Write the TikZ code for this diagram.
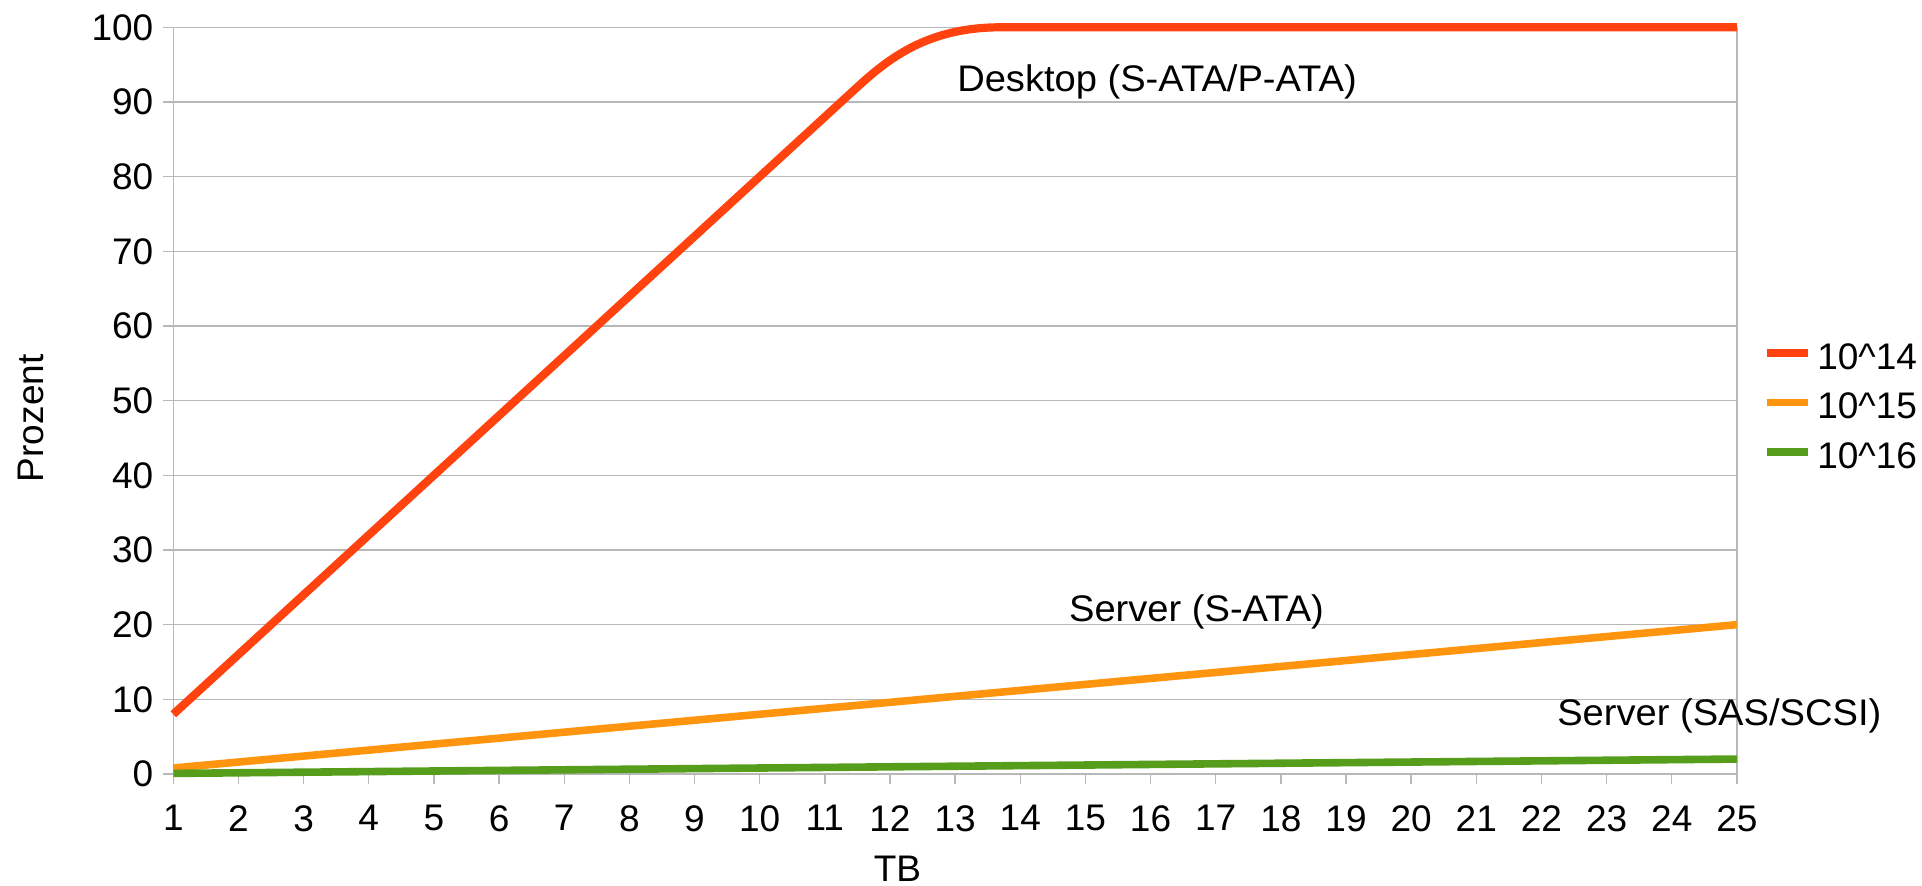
\documentclass[tikz,border=0pt]{standalone}
\usepackage{fontspec}
\setmainfont{Liberation Sans}
\definecolor{cA}{HTML}{FF420E}
\definecolor{cB}{HTML}{FF950E}
\definecolor{cC}{HTML}{579D1C}
\definecolor{gridc}{HTML}{B8B8B8}
\begin{document}
\begin{tikzpicture}[x=1pt,y=1pt,
  font=\fontsize{37}{44}\selectfont,
  gridline/.style={draw=gridc, line width=1.4pt},
  series/.style={line width=7.6pt, line join=round, line cap=butt},
  lbl/.style={inner sep=0pt, outer sep=0pt}]
\useasboundingbox (0,0) rectangle (1922,886);
\begin{scope}[shift={(173.3,112)}, x=65.15pt, y=7.467pt]
  % horizontal grid, y ticks and labels
  \foreach \p in {0,10,...,100} {
    \draw[gridline] (-0.163,\p) -- (24,\p);
    \node[lbl, anchor=east] (ylab\p) at (-0.307,\p) {\p};
  }
  % frame verticals
  \draw[gridline] (0,100) -- (0,-1.38);
  \draw[gridline] (24,100) -- (24,-1.38);
  % x ticks and labels
  \foreach \v [evaluate=\v as \xx using \v-1] in {1,...,25} {
    \draw[gridline] (\xx,0) -- (\xx,-1.38);
    \node[lbl, anchor=north] (xlab\v) at (\xx,-4.22) {\v};
  }
  % series
  \draw[series, cA, line width=8.2pt] (0,8) -- (10.5,92) .. controls (11,96) and (11.6,100) .. (12.7,100) -- (24,100);
  \draw[series, cB] (0,0.8) -- (24,20);
  \draw[series, cC] (0,0.08) -- (24,2);
\end{scope}
% data labels
\node[lbl, anchor=base, xscale=1.03] (ldesk) at (1157,794) {Desktop (S-ATA/P-ATA)};
\node[lbl, anchor=base, xscale=1.03] (lsata) at (1196.5,264.3) {Server (S-ATA)};
\node[lbl, anchor=base, xscale=1.03] (lsas) at (1719.3,160) {Server (SAS/SCSI)};
% axis titles
\node[lbl, rotate=90] (ytitle) at (30.8,467.7) {Prozent};
\node[lbl] (xtitle) at (897.5,17) {TB};
% legend
\coordinate (k1a) at (1766.7,532.7); \coordinate (k1b) at (1808.3,532.7);
\coordinate (k2a) at (1766.7,483.3); \coordinate (k2b) at (1808.3,483.3);
\coordinate (k3a) at (1766.7,433.7); \coordinate (k3b) at (1808.3,433.7);
\draw[series, cA] (k1a) -- (k1b);
\draw[series, cB] (k2a) -- (k2b);
\draw[series, cC] (k3a) -- (k3b);
\node[lbl, anchor=west] (leg1) at (1817.3,529.7) {10\textasciicircum 14};
\node[lbl, anchor=west] (leg2) at (1817.3,480.3) {10\textasciicircum 15};
\node[lbl, anchor=west] (leg3) at (1817.3,430.7) {10\textasciicircum 16};
\end{tikzpicture}
\end{document}
